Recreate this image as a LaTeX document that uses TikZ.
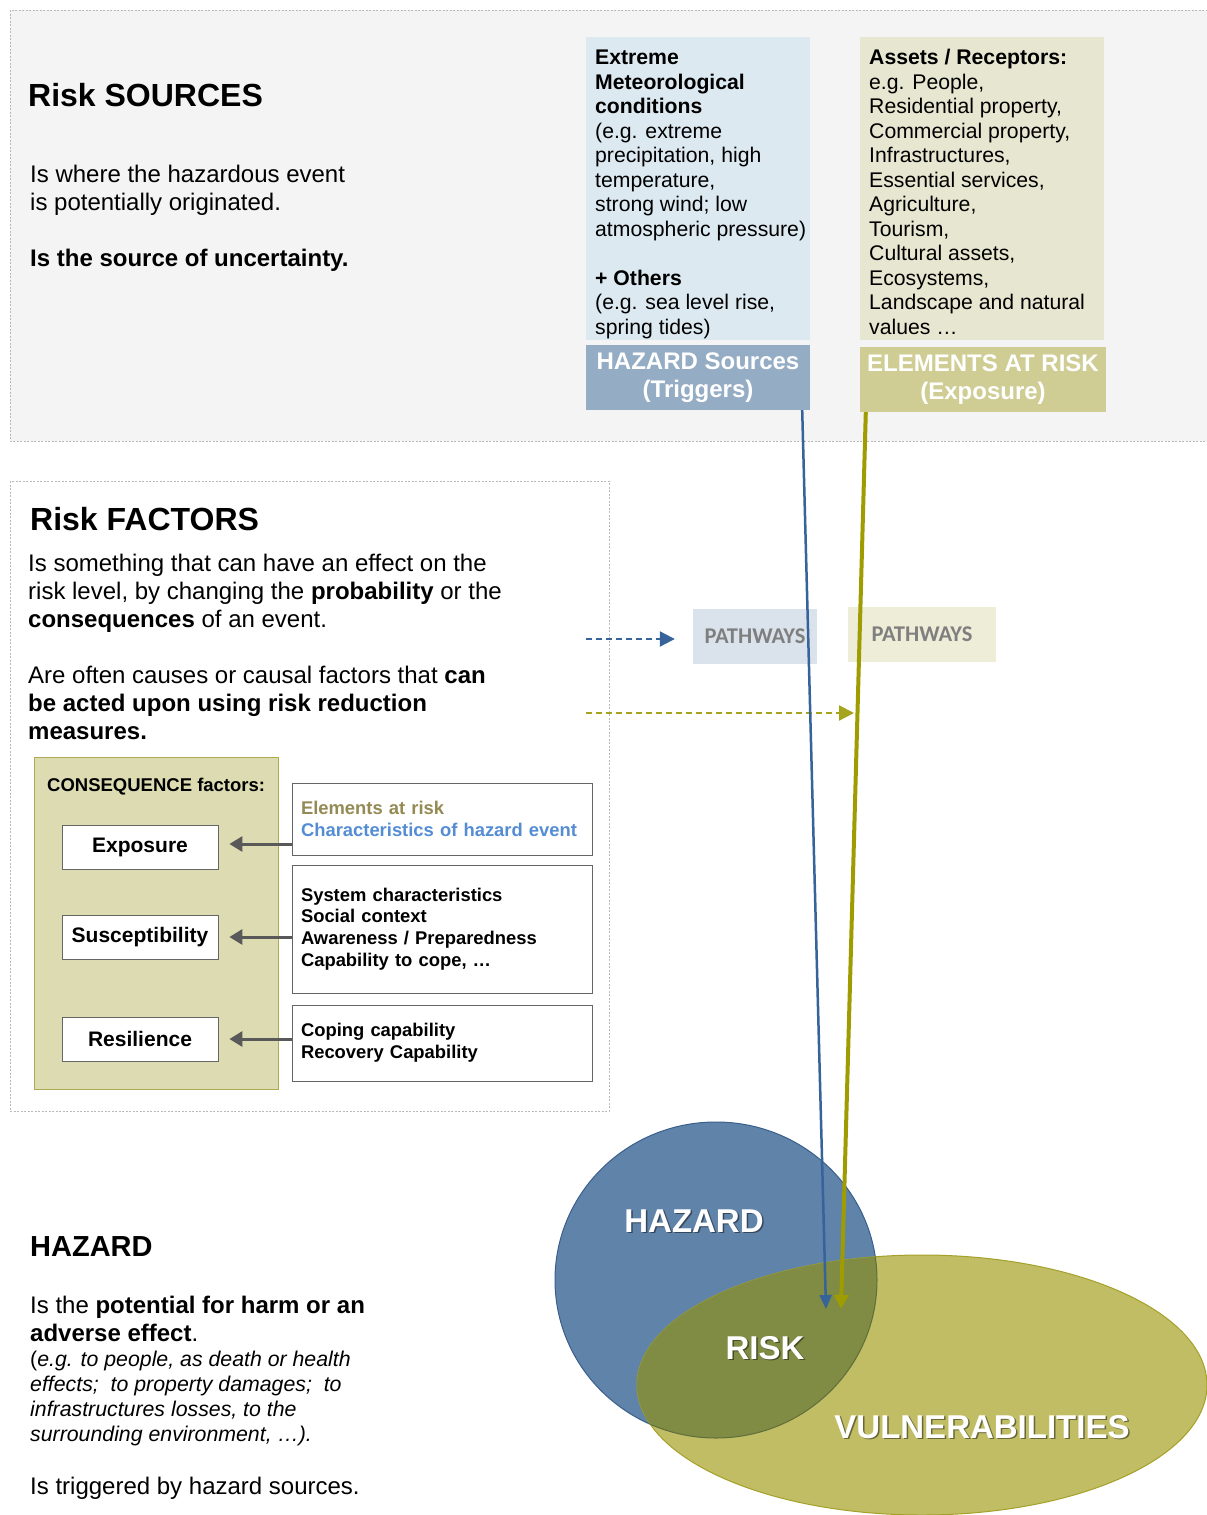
\documentclass[tikz,border=0pt]{standalone}
\usepackage{fontspec}
\setmainfont{Liberation Sans}
\newfontfamily\calfont{Carlito}
\usetikzlibrary{arrows.meta,positioning}

\definecolor{panelgray}{RGB}{244,244,244}
\definecolor{metblue}{RGB}{221,233,241}
\definecolor{srcblue}{RGB}{149,172,197}
\definecolor{assetol}{RGB}{230,230,209}
\definecolor{elemol}{RGB}{207,205,148}
\definecolor{consol}{RGB}{220,219,177}
\definecolor{consborder}{RGB}{176,170,80}
\definecolor{pathblue}{RGB}{218,227,236}
\definecolor{pathol}{RGB}{238,237,216}
\definecolor{pathtext}{RGB}{127,127,127}
\definecolor{lineblue}{RGB}{53,99,154}
\definecolor{lineol}{RGB}{158,156,0}
\definecolor{dashol}{RGB}{166,164,26}
\definecolor{hazfill}{RGB}{96,131,169}
\definecolor{hazborder}{RGB}{57,95,140}
\definecolor{vulfill}{RGB}{192,189,101}
\definecolor{vulborder}{RGB}{165,160,40}
\definecolor{riskfill}{RGB}{128,139,67}
\definecolor{riskborder}{RGB}{95,110,60}
\definecolor{elemtext}{RGB}{148,138,84}
\definecolor{hazevent}{RGB}{84,141,212}
\definecolor{arrowgray}{RGB}{89,89,89}

\newcommand{\fs}[2]{\fontsize{#1}{#2}\selectfont}

\begin{document}
\begin{tikzpicture}[x=1pt, y=-1pt,
    panel/.style={draw=gray!55, dash pattern=on 2pt off 1.5pt, line width=0.8pt},
    txt/.style={anchor=base west, inner sep=0pt, align=left},
    body/.style={txt, font=\fs{24}{28}},
    title/.style={txt, font=\fs{32}{38}\bfseries},
    listtext/.style={txt, font=\fs{21.2}{24.5}},
    header/.style={inner sep=0pt, text=white, align=center, font=\fs{24}{28.5}\bfseries},
    pathway/.style={inner sep=0pt, text=pathtext, font=\fs{22.5}{26}\calfont\bfseries},
    factor/.style={draw=gray!80!black, fill=white, line width=0.8pt, minimum width=156pt,
                   minimum height=44pt, inner sep=0pt, font=\fs{21}{25}\bfseries},
    detail/.style={draw=gray!80!black, fill=white, line width=0.8pt, minimum width=300pt,
                   text width=282pt, inner xsep=9pt, align=left, font=\fs{18.4}{21.7}\bfseries},
    sidearrow/.style={draw=arrowgray, line width=3pt, -{Triangle[length=13pt,width=15pt]}},
    bigword/.style={inner sep=0pt, text=white, font=\fs{33}{38}\bfseries},
    bigshadow/.style={inner sep=0pt, text=black, opacity=0.45, font=\fs{33}{38}\bfseries}
]
\useasboundingbox (0,0) rectangle (1207,1515);
\fill[white] (0,0) rectangle (1207,1515);

% Sorgenti
\filldraw[panel, fill=panelgray] (10,10) rectangle (1212,441);
\node[title] (srctitle) at (28,106) {Risk SOURCES};
\node[body] (srctext) at (30,210) {Is where the hazardous event\\is potentially originated.};
\node[body, font=\fs{24}{28}\bfseries] (srcunc) at (30,266) {Is the source of uncertainty.};

\node[fill=metblue, minimum width=224pt, minimum height=303pt, inner sep=0pt, anchor=north west] (metbox) at (586,37) {};
\node[listtext] (mettext) at (595,334) {\textbf{Extreme}\\\textbf{Meteorological}\\\textbf{conditions}\\(e.g. extreme\\precipitation, high\\temperature,\\strong wind; low\\atmospheric pressure)\\[24.5pt]\textbf{+ Others}\\(e.g. sea level rise,\\spring tides)};
\node[header, fill=srcblue, minimum width=224pt, minimum height=65pt] (hsrc) at (698,377.5) {HAZARD Sources\\(Triggers)};

\node[fill=assetol, minimum width=244pt, minimum height=303pt, inner sep=0pt, anchor=north west] (assetbox) at (860,37) {};
\node[listtext] (assettext) at (869,334) {\textbf{Assets / Receptors:}\\e.g. People,\\Residential property,\\Commercial property,\\Infrastructures,\\Essential services,\\Agriculture,\\Tourism,\\Cultural assets,\\Ecosystems,\\Landscape and natural\\values …};
\node[header, fill=elemol, minimum width=246pt, minimum height=65pt] (elem) at (983,379.5) {ELEMENTS AT RISK\\(Exposure)};

% Fattori
\filldraw[panel, fill=white] (10,481) rectangle (609,1111);
\node[title] (factitle) at (30,530) {Risk FACTORS};
\node[body] (factext) at (28,739) {Is something that can have an effect on the\\risk level, by changing the \textbf{probability} or the\\\textbf{consequences} of an event.\\[28pt]Are often causes or causal factors that \textbf{can}\\\textbf{be acted upon using risk reduction}\\\textbf{measures.}};

\filldraw[fill=consol, draw=consborder, line width=1pt] (34,757) rectangle (278,1089);
\node[txt, font=\fs{18.5}{21.7}\bfseries] (constitle) at (47,791) {CONSEQUENCE factors:};
\node[factor] (expo) at (140,847) {Exposure};
\node[factor] (susc) at (140,937) {Susceptibility};
\node[factor] (resil) at (140,1039) {Resilience};

\node[detail, minimum height=72pt] (elbox) at (442,819) {\textcolor{elemtext}{Elements at risk}\\\textcolor{hazevent}{Characteristics of hazard event}};
\node[detail, minimum height=128pt] (sysbox) at (442,929) {System characteristics\\Social context\\Awareness / Preparedness\\Capability to cope, …};
\node[detail, minimum height=76pt] (copebox) at (442,1043) {Coping capability\\Recovery Capability};

\draw[sidearrow, shorten >=11pt] ([yshift=3pt]expo.east -| elbox.west) -- ([yshift=3pt]expo.east);
\draw[sidearrow, shorten >=11pt] (susc.east -| sysbox.west) -- (susc.east);
\draw[sidearrow, shorten >=11pt] (resil.east -| copebox.west) -- (resil.east);

% Percorsi
\node[pathway, fill=pathblue, minimum width=124pt, minimum height=55pt] (bpath) at (755,636.5) {PATHWAYS};
\node[pathway, fill=pathol, minimum width=148pt, minimum height=55pt] (opath) at (922,634.5) {PATHWAYS};
\coordinate (bstart) at (586,639);
\coordinate (ostart) at (586,713);
\coordinate (oend) at (854,713);
\draw[lineblue, line width=2.2pt, dash pattern=on 6pt off 4pt, -{Triangle[length=15pt,width=15pt]}, shorten >=18pt] (bstart) -- (bstart -| bpath.west);
\draw[dashol, line width=2.2pt, dash pattern=on 6pt off 4pt, -{Triangle[length=15pt,width=15pt]}] (ostart) -- (oend);

% Pericolo e rischio
\filldraw[fill=hazfill, draw=hazborder, line width=1pt] (716,1280) ellipse [x radius=161, y radius=158];
\filldraw[fill=vulfill, draw=vulborder, line width=1pt] (922,1385) ellipse [x radius=285, y radius=130];
\begin{scope}
  \clip (922,1385) ellipse [x radius=285, y radius=130];
  \filldraw[fill=riskfill, draw=riskborder, line width=1pt] (716,1280) ellipse [x radius=161, y radius=158];
\end{scope}

\coordinate (bluetip) at (826,1309);
\coordinate (oltip) at (841,1309);
\draw[lineblue, line width=2.5pt, -{Triangle[length=14pt,width=12pt]}] ([xshift=-8pt]hsrc.south east) -- (bluetip);
\draw[lineol, line width=4pt, -{Triangle[length=14pt,width=14pt]}] ([xshift=6pt]elem.south west) -- (oltip);

\node[bigshadow] (hazsh) at (695.5,1222.5) {HAZARD};
\node[bigword] (haz) at (694,1221) {HAZARD};
\node[bigshadow] (risksh) at (766.5,1349.5) {RISK};
\node[bigword] (risk) at (765,1348) {RISK};
\node[bigshadow] (vulsh) at (983.5,1428.5) {VULNERABILITIES};
\node[bigword] (vul) at (982,1427) {VULNERABILITIES};

\node[txt, font=\fs{29}{34}\bfseries] (haztitle) at (30,1256) {HAZARD};
\node[body] (hazdef) at (30,1341) {Is the \textbf{potential for harm or an}\\\textbf{adverse effect}.};
\node[txt, font=\fs{21.3}{25}] (hazeg) at (30,1441) {(\textit{e.g. to people, as death or health}\\\textit{effects;~ to property damages;~ to}\\\textit{infrastructures losses, to the}\\\textit{surrounding environment, …).}};
\node[body] (hazsrc) at (30,1494) {Is triggered by hazard sources.};
\end{tikzpicture}
\end{document}
